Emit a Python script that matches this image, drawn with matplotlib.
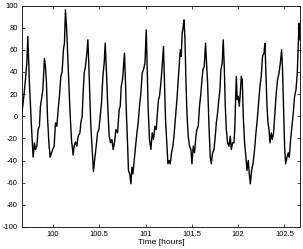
import numpy as np
import matplotlib
matplotlib.use("Agg")
import matplotlib.pyplot as plt

plt.rcParams['font.family'] = ['Liberation Sans', 'DejaVu Sans']
plt.rcParams['axes.unicode_minus'] = False

# time [hours] and signal
time_h = [
    99.668, 99.687, 99.704, 99.719, 99.730, 99.747, 99.769, 99.787, 99.801, 99.812,
    99.827, 99.841, 99.855, 99.866, 99.877, 99.892, 99.909, 99.920, 99.931, 99.942,
    99.957, 99.971, 99.985, 100.000, 100.014, 100.028, 100.043, 100.057, 100.071, 100.086,
    100.100, 100.114, 100.125, 100.136, 100.151, 100.165, 100.184, 100.201, 100.219, 100.230,
    100.244, 100.259, 100.273, 100.292, 100.302, 100.316, 100.327, 100.338, 100.352, 100.367,
    100.378, 100.389, 100.400, 100.410, 100.424, 100.438, 100.454, 100.468, 100.482, 100.497,
    100.511, 100.525, 100.540, 100.554, 100.565, 100.579, 100.594, 100.608, 100.622, 100.637,
    100.651, 100.665, 100.680, 100.698, 100.716, 100.727, 100.738, 100.752, 100.773, 100.784,
    100.795, 100.806, 100.816, 100.832, 100.842, 100.853, 100.864, 100.878, 100.892, 100.907,
    100.921, 100.935, 100.950, 100.964, 100.978, 100.994, 101.008, 101.018, 101.029, 101.043,
    101.058, 101.072, 101.086, 101.102, 101.116, 101.126, 101.140, 101.151, 101.166, 101.177,
    101.194, 101.205, 101.216, 101.231, 101.242, 101.256, 101.267, 101.281, 101.296, 101.310,
    101.324, 101.339, 101.353, 101.364, 101.375, 101.386, 101.396, 101.407, 101.415, 101.426,
    101.436, 101.447, 101.461, 101.475, 101.490, 101.501, 101.515, 101.529, 101.544, 101.555,
    101.569, 101.583, 101.598, 101.609, 101.620, 101.634, 101.648, 101.670, 101.685, 101.699,
    101.710, 101.724, 101.739, 101.753, 101.764, 101.778, 101.788, 101.803, 101.814, 101.828,
    101.839, 101.850, 101.861, 101.872, 101.886, 101.901, 101.915, 101.926, 101.940, 101.955,
    101.965, 101.972, 101.980, 101.990, 102.001, 102.012, 102.023, 102.034, 102.044, 102.055,
    102.069, 102.084, 102.095, 102.109, 102.120, 102.131, 102.145, 102.160, 102.177, 102.192,
    102.206, 102.220, 102.235, 102.249, 102.263, 102.279, 102.289, 102.300, 102.311, 102.322,
    102.333, 102.343, 102.357, 102.368, 102.382, 102.397, 102.411, 102.425, 102.441, 102.455,
    102.469, 102.479, 102.490, 102.501, 102.512, 102.527, 102.541, 102.552, 102.566, 102.581,
    102.595, 102.609, 102.624, 102.638, 102.649, 102.657, 102.663, 102.667,
]
signal = [
    4, 18, 33, 48, 72, 30, -9, -37, -24, -30,
    -27, -12, -9, 9, 15, 24, 52, 45, 30, 0,
    -24, -37, -33, -30, -27, -6, -9, 6, 18, 36,
    40, 60, 66, 96, 75, 45, 6, -21, -35, -27,
    -23, -27, -18, -15, -6, 0, 21, 39, 45, 57,
    69, 45, 15, -9, -30, -50, -37, -27, -15, -12,
    0, 12, 36, 48, 66, 39, 6, -18, -24, -21,
    -30, -24, -12, -15, 6, 9, 27, 33, 57, 30,
    0, -24, -49, -53, -61, -46, -52, -40, -27, -15,
    -6, 9, 21, 39, 42, 48, 78, 45, 6, -21,
    -30, -15, -21, -9, -12, 0, 15, 18, 30, 42,
    63, 30, -3, -27, -43, -40, -43, -33, -27, -15,
    0, 15, 33, 48, 60, 54, 75, 81, 87, 69,
    33, 3, -18, -27, -30, -43, -27, -33, -18, -12,
    -9, 9, 21, 33, 42, 45, 66, 30, -9, -37,
    -43, -33, -30, -18, -6, 3, 12, 24, 42, 48,
    69, 45, 9, -12, -24, -27, -18, -30, -24, -24,
    -9, 15, 36, 15, 18, 9, 21, 36, 33, 0,
    -24, -37, -49, -40, -52, -61, -49, -43, -30, -15,
    -3, 12, 27, 36, 54, 57, 66, 36, 9, -6,
    -12, -24, -15, -21, -15, 3, 21, 33, 39, 48,
    60, 42, 6, -27, -43, -37, -33, -37, -21, -9,
    3, 18, 24, 39, 66, 84, 78, 69,
]

x_ticks = [100, 100.5, 101, 101.5, 102, 102.5]
x_labels = ['100', '100.5', '101', '101.5', '102', '102.5']
y_ticks = list(range(-100, 101, 20))

fig = plt.figure(figsize=(3.03, 2.49), dpi=100)
ax = fig.add_axes([0.0726, 0.0884, 0.9174, 0.8895])
ax.plot(time_h, signal, color='black', linewidth=1.0)

ax.set_xlim(99.667, 102.667)
ax.set_ylim(-100, 100)
ax.set_xticks(x_ticks)
ax.set_xticklabels(x_labels)
ax.set_yticks(y_ticks)
ax.tick_params(direction='in', length=2.5, width=0.5, labelsize=5.5,
               top=True, right=True, pad=3)
for s in ax.spines.values():
    s.set_linewidth(0.6)
ax.set_xlabel('Time [hours]', fontsize=6, labelpad=0.5)

fig.savefig('out.png', dpi=100)
